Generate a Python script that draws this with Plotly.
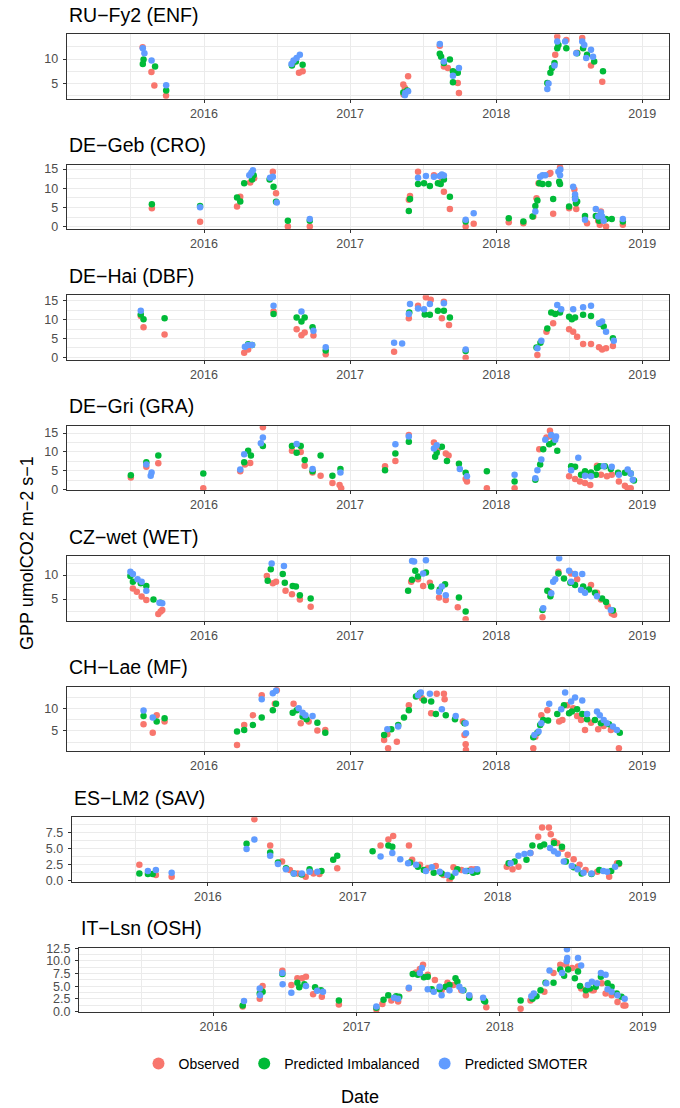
import plotly.graph_objects as go

# ---------------- data (decimal year, GPP) ----------------
SITE_TITLES = ["RU\u2212Fy2 (ENF)", "DE\u2212Geb (CRO)", "DE\u2212Hai (DBF)", "DE\u2212Gri (GRA)",
               "CZ\u2212wet (WET)", "CH\u2212Lae (MF)", "ES\u2212LM2 (SAV)", "IT\u2212Lsn (OSH)"]
SERIES_NAMES = ["Observed", "Predicted Imbalanced", "Predicted SMOTER"]
YEAR_TICKS = [2016, 2017, 2018, 2019]

RU_OBS = [(2015.58,12.4),(2015.64,7.36),(2015.66,4.6),(2015.74,2.5),(2016.61,9.2),(2016.65,7.2),(2016.675,7.5),
          (2017.364,4.8),(2017.375,4.1),(2017.397,6.5),(2017.366,2.8),(2017.614,12.7),(2017.642,8.5),(2017.669,8.2),
          (2017.723,7.3),(2017.737,5.1),(2017.745,3.1),(2018.404,10.9),(2018.418,14.6),(2018.48,13.9),(2018.589,14.3),
          (2018.649,8.7),(2018.726,5.4),(2018.554,11.3)]
RU_IMB = [(2015.581,9.0),(2015.586,9.9),(2015.665,8.5),(2015.741,3.6),(2016.602,8.7),(2016.629,9.5),(2016.675,8.85),
          (2017.364,3.2),(2017.391,3.6),(2017.614,11.1),(2017.623,10.5),(2017.683,9.9),(2017.642,9.2),(2017.704,7.5),
          (2017.737,7.2),(2017.704,5.3),(2018.35,5.1),(2018.371,7.2),(2018.382,8.2),(2018.399,9.2),(2018.418,12.2),
          (2018.426,12.9),(2018.48,12.2),(2018.554,11.2),(2018.595,12.2),(2018.622,10.9),(2018.671,9.5),(2018.731,7.5)]
RU_SMO = [(2015.581,12.2),(2015.592,11.2),(2015.641,9.7),(2015.741,4.66),(2016.599,9.0),(2016.613,9.7),(2016.634,10.2),
          (2016.656,10.9),(2017.378,3.1),(2017.397,3.45),(2017.375,2.6),(2017.614,13.1),(2017.642,9.5),(2017.745,8.2),
          (2017.704,6.6),(2018.35,3.9),(2018.358,5.0),(2018.399,8.7),(2018.418,13.6),(2018.472,13.6),(2018.548,11.2),
          (2018.589,13.6),(2018.603,12.9),(2018.616,10.2),(2018.649,11.9),(2018.663,10.5)]

GEB_OBS = [(2015.643,4.83),(2015.973,1.3),(2016.226,5.26),(2016.248,7.8),(2016.316,11.5),(2016.343,12.6),(2016.471,14.3),
           (2016.493,8.7),(2016.574,0.1),(2016.724,0.1),(2017.402,7.0),(2017.41,8.0),(2017.465,14.3),(2017.574,13.4),
           (2017.628,12.6),(2017.642,9.1),(2017.683,4.6),(2017.791,0.1),(2017.846,0.8),(2018.086,1.2),(2018.186,0.95),
           (2018.254,2.7),(2018.276,7.4),(2018.29,11.3),(2018.363,13.7),(2018.371,14.0),(2018.39,3.4),(2018.437,15.4),
           (2018.499,4.8),(2018.535,9.7),(2018.548,4.6),(2018.622,0.95),(2018.698,1.55),(2018.709,0.5),(2018.717,4.0),
           (2018.752,0.1),(2018.867,0.5)]
GEB_IMB = [(2015.643,5.86),(2015.973,5.4),(2016.226,7.6),(2016.248,6.55),(2016.275,11.3),(2016.329,12.3),(2016.34,13.4),
           (2016.449,12.3),(2016.476,10.4),(2016.493,6.5),(2016.574,1.55),(2016.724,1.55),(2017.402,4.1),(2017.41,7.2),
           (2017.465,11.1),(2017.506,11.3),(2017.546,10.6),(2017.601,11.3),(2017.62,11.1),(2017.642,12.3),(2017.683,7.8),
           (2017.791,1.4),(2018.086,2.24),(2018.186,1.4),(2018.249,2.7),(2018.268,5.4),(2018.282,6.8),(2018.295,11.3),
           (2018.317,11.1),(2018.358,11.1),(2018.39,7.2),(2018.431,11.7),(2018.437,11.1),(2018.499,5.3),(2018.54,7.7),
           (2018.546,6.1),(2018.554,6.6),(2018.608,2.8),(2018.682,2.8),(2018.704,1.55),(2018.752,2.0),(2018.791,2.0),
           (2018.867,1.4)]
GEB_SMO = [(2015.973,5.1),(2016.31,13.4),(2016.324,14.05),(2016.335,14.7),(2016.452,12.75),(2016.471,13.0),(2016.498,6.3),
           (2016.724,2.0),(2017.465,12.75),(2017.519,13.2),(2017.574,13.0),(2017.614,13.2),(2017.628,13.6),(2017.642,13.3),
           (2017.791,1.8),(2017.846,3.5),(2018.268,4.0),(2018.301,13.0),(2018.317,13.4),(2018.336,13.4),(2018.426,14.3),
           (2018.439,14.9),(2018.437,13.4),(2018.527,10.4),(2018.54,8.4),(2018.54,7.2),(2018.608,1.8),(2018.682,4.6),
           (2018.698,2.7),(2018.717,3.7),(2018.725,2.7),(2018.736,1.55),(2018.867,2.0)]

HAI_OBS = [(2015.567,11.0),(2015.586,8.0),(2015.73,6.1),(2016.275,1.24),(2016.302,2.1),(2016.476,12.2),(2016.634,7.5),
           (2016.667,5.9),(2016.689,6.6),(2016.749,5.8),(2016.833,0.8),(2017.301,1.5),(2017.402,10.4),(2017.465,13.7),
           (2017.519,16.0),(2017.552,15.3),(2017.628,10.4),(2017.642,14.8),(2017.677,8.6),(2017.791,-0.1),(2018.282,0.6),
           (2018.344,6.8),(2018.39,9.05),(2018.499,7.45),(2018.527,6.8),(2018.554,5.5),(2018.595,3.55),(2018.649,3.55),
           (2018.704,2.66),(2018.725,2.1),(2018.752,2.4),(2018.799,3.0)]
HAI_IMB = [(2015.567,11.4),(2015.586,10.1),(2015.73,10.4),(2016.302,3.5),(2016.329,3.3),(2016.476,11.5),(2016.634,10.6),
           (2016.667,9.5),(2016.689,10.6),(2016.743,8.0),(2016.833,1.8),(2017.405,11.9),(2017.511,11.4),(2017.546,11.3),
           (2017.601,12.4),(2017.642,12.4),(2017.683,10.6),(2017.791,1.7),(2018.276,2.6),(2018.303,3.9),(2018.35,7.7),
           (2018.377,11.9),(2018.404,11.5),(2018.437,11.9),(2018.499,10.8),(2018.518,10.1),(2018.54,10.6),(2018.595,11.3),
           (2018.649,11.0),(2018.709,8.9),(2018.736,8.2),(2018.799,5.1)]
HAI_SMO = [(2015.567,12.4),(2016.28,2.84),(2016.302,3.3),(2016.329,3.3),(2016.476,13.7),(2016.667,12.2),(2016.749,7.1),
           (2016.833,2.66),(2017.301,3.9),(2017.356,3.7),(2017.402,11.5),(2017.41,14.2),(2017.465,13.0),(2017.506,12.8),
           (2017.546,14.2),(2017.642,14.4),(2017.791,2.1),(2018.282,2.4),(2018.309,4.4),(2018.418,13.9),(2018.445,12.8),
           (2018.527,12.8),(2018.595,13.3),(2018.649,13.7),(2018.704,9.05),(2018.725,9.5),(2018.752,6.8),(2018.805,4.4)]

GRI_OBS = [(2015.499,3.3),(2015.605,6.1),(2015.687,7.0),(2015.995,0.45),(2016.248,4.9),(2016.28,6.7),(2016.316,7.1),
           (2016.403,16.5),(2016.602,10.3),(2016.662,10.0),(2016.689,6.4),(2016.743,4.6),(2016.798,3.75),(2016.879,1.8),
           (2016.928,1.3),(2016.939,0.45),(2017.239,6.25),(2017.31,7.6),(2017.402,14.5),(2017.574,12.5),(2017.601,10.9),
           (2017.655,9.6),(2017.674,9.1),(2017.791,2.9),(2017.8,2.2),(2017.936,0.45),(2018.126,0.45),(2018.295,10.7),
           (2018.344,13.8),(2018.368,15.6),(2018.377,14.1),(2018.499,3.6),(2018.54,2.9),(2018.573,2.2),(2018.608,1.8),
           (2018.644,1.3),(2018.69,6.4),(2018.717,4.0),(2018.758,3.6),(2018.791,4.0),(2018.84,2.2),(2018.881,1.1),
           (2018.9,0.45),(2018.921,0.45)]
GRI_IMB = [(2015.499,3.84),(2015.605,7.3),(2015.687,9.1),(2015.995,4.3),(2016.275,7.3),(2016.302,10.3),(2016.321,9.1),
           (2016.403,11.6),(2016.602,11.6),(2016.634,9.8),(2016.662,11.6),(2016.689,7.9),(2016.743,4.9),(2016.798,9.1),
           (2016.879,3.75),(2016.934,5.5),(2017.239,5.2),(2017.31,9.6),(2017.402,12.7),(2017.582,8.75),(2017.593,9.8),
           (2017.628,11.4),(2017.663,7.6),(2017.745,6.9),(2017.791,4.5),(2017.936,4.9),(2018.126,2.2),(2018.268,2.7),
           (2018.301,6.7),(2018.322,10.7),(2018.363,12.05),(2018.39,12.5),(2018.418,10.3),(2018.513,6.25),(2018.54,6.1),
           (2018.581,4.0),(2018.608,4.9),(2018.649,4.6),(2018.682,4.0),(2018.69,5.8),(2018.709,6.25),(2018.744,6.25),
           (2018.785,5.5),(2018.834,4.5),(2018.881,4.5),(2018.921,4.3),(2018.943,2.5)]
GRI_SMO = [(2015.605,6.7),(2015.635,3.75),(2015.641,4.6),(2016.248,5.4),(2016.275,9.4),(2016.389,12.3),(2016.403,13.8),
           (2016.634,12.1),(2016.743,5.5),(2016.934,4.6),(2017.31,12.05),(2017.402,14.1),(2017.574,10.9),(2017.593,11.8),
           (2017.751,5.5),(2017.8,3.6),(2018.126,4.0),(2018.268,3.1),(2018.282,5.2),(2018.309,8.0),(2018.336,13.2),
           (2018.377,14.5),(2018.404,13.2),(2018.41,14.1),(2018.513,5.2),(2018.562,8.5),(2018.608,3.75),(2018.649,3.6),
           (2018.736,6.25),(2018.791,6.1),(2018.84,4.0),(2018.9,5.4),(2018.921,4.3),(2018.935,2.7)]

CZ_OBS = [(2015.513,7.2),(2015.54,6.5),(2015.573,5.5),(2015.605,4.8),(2015.687,1.9),(2015.703,2.4),(2015.714,2.7),
          (2016.43,9.8),(2016.471,8.3),(2016.493,8.6),(2016.558,6.7),(2016.602,6.0),(2016.656,4.9),(2016.73,3.4),
          (2017.418,8.6),(2017.465,9.1),(2017.5,7.7),(2017.546,8.4),(2017.609,5.3),(2017.655,4.8),(2017.737,3.3),
          (2017.791,0.8),(2018.317,1.2),(2018.363,6.5),(2018.426,10.7),(2018.513,10.3),(2018.554,9.1),(2018.649,7.9),
          (2018.69,6.3),(2018.717,4.9),(2018.763,3.5),(2018.791,2.0),(2018.807,1.7)]
CZ_IMB = [(2015.496,9.8),(2015.513,8.6),(2015.567,8.3),(2015.605,7.7),(2015.654,4.9),(2015.703,4.2),(2016.436,8.8),
          (2016.457,11.2),(2016.539,10.2),(2016.553,8.4),(2016.607,7.7),(2016.629,7.6),(2016.656,5.8),(2016.73,5.1),
          (2017.397,6.7),(2017.424,9.0),(2017.446,10.9),(2017.465,9.7),(2017.519,10.5),(2017.555,7.6),(2017.614,7.0),
          (2017.65,8.1),(2017.745,5.3),(2017.791,2.4),(2018.317,2.7),(2018.35,6.7),(2018.371,5.6),(2018.426,10.3),
          (2018.464,9.3),(2018.508,8.4),(2018.54,7.9),(2018.595,7.6),(2018.635,7.0),(2018.676,6.3),(2018.725,5.1),
          (2018.752,4.4),(2018.799,2.6)]
CZ_SMO = [(2015.496,10.7),(2015.513,10.2),(2015.545,9.1),(2015.573,8.6),(2015.605,6.7),(2015.695,4.2),(2015.714,4.1),
          (2016.463,12.4),(2016.547,11.9),(2017.424,12.9),(2017.438,12.8),(2017.519,13.1),(2017.5,10.3),(2017.609,6.5),
          (2017.628,7.6),(2017.655,5.8),(2018.322,3.05),(2018.377,6.2),(2018.39,8.6),(2018.404,9.1),(2018.431,13.5),
          (2018.499,10.9),(2018.54,10.2),(2018.589,10.2),(2018.513,8.6),(2018.581,6.9),(2018.608,6.3),(2018.69,5.6),
          (2018.785,2.7)]

LAE_OBS = [(2015.586,6.5),(2015.649,4.6),(2015.676,8.5),(2015.73,7.1),(2016.226,1.9),(2016.275,6.3),(2016.335,8.5),
           (2016.395,12.9),(2016.485,11.0),(2016.498,14.0),(2016.613,11.0),(2016.662,6.7),(2016.716,7.1),(2016.776,5.1),
           (2016.83,5.2),(2017.233,3.0),(2017.255,4.3),(2017.32,2.6),(2017.26,1.2),(2017.402,10.7),(2017.492,12.2),
           (2017.555,8.9),(2017.593,13.2),(2017.642,13.2),(2017.647,12.0),(2017.772,7.1),(2017.783,4.1),(2017.791,2.1),
           (2017.793,0.8),(2018.254,1.2),(2018.268,3.75),(2018.309,8.5),(2018.35,9.6),(2018.431,7.1),(2018.453,7.4),
           (2018.486,10.7),(2018.527,10.0),(2018.554,8.3),(2018.581,7.4),(2018.608,5.2),(2018.649,6.8),(2018.698,5.4),
           (2018.736,6.1),(2018.785,5.2),(2018.84,1.2)]
LAE_IMB = [(2015.586,8.3),(2015.676,7.1),(2015.73,7.8),(2016.226,4.9),(2016.275,5.2),(2016.335,6.3),(2016.395,8.0),
           (2016.471,9.6),(2016.493,11.0),(2016.607,9.0),(2016.634,9.6),(2016.675,8.2),(2016.702,7.6),(2016.776,6.8),
           (2016.83,4.6),(2017.233,4.1),(2017.282,5.4),(2017.329,6.3),(2017.369,8.0),(2017.402,9.6),(2017.451,12.6),
           (2017.478,13.3),(2017.506,11.7),(2017.555,11.5),(2017.587,8.75),(2017.655,8.5),(2017.718,7.6),(2017.783,6.7),
           (2018.254,3.6),(2018.282,4.6),(2018.301,6.3),(2018.322,7.4),(2018.355,7.3),(2018.418,8.75),(2018.464,10.7),
           (2018.499,8.9),(2018.518,9.3),(2018.554,9.8),(2018.589,8.75),(2018.622,7.6),(2018.676,7.4),(2018.717,6.7),
           (2018.772,6.5),(2018.846,4.6)]
LAE_SMO = [(2015.586,9.5),(2015.649,8.0),(2016.395,12.0),(2016.471,13.3),(2016.493,13.9),(2016.648,10.0),(2016.675,9.0),
           (2016.694,8.5),(2016.743,8.3),(2017.255,5.4),(2017.329,6.0),(2017.465,12.9),(2017.484,13.5),(2017.546,13.2),
           (2017.628,9.8),(2017.723,8.3),(2017.791,6.7),(2017.793,4.5),(2018.262,4.1),(2018.29,4.9),(2018.309,6.7),
           (2018.363,11.0),(2018.445,9.8),(2018.472,13.5),(2018.513,11.5),(2018.54,12.4),(2018.589,11.7),(2018.622,8.75),
           (2018.69,9.3),(2018.709,8.5),(2018.736,7.4),(2018.758,6.7),(2018.799,6.0),(2018.826,5.2)]

LM2_OBS = [(2015.527,2.5),(2015.641,0.9),(2015.75,0.63),(2016.321,9.6),(2016.43,5.5),(2016.512,3.0),(2016.566,1.7),
           (2016.62,1.16),(2016.675,0.63),(2016.729,1.16),(2016.77,1.06),(2016.893,1.95),(2017.192,5.5),(2017.246,6.45),
           (2017.279,6.97),(2017.388,5.5),(2017.41,3.28),(2017.464,2.5),(2017.518,1.95),(2017.573,2.3),(2017.627,0.9),
           (2017.668,0.1),(2017.695,2.1),(2017.75,1.7),(2017.818,1.8),(2017.845,1.8),(2018.063,2.2),(2018.103,1.8),
           (2018.144,2.2),(2018.226,4.33),(2018.28,6.87),(2018.307,8.3),(2018.354,8.3),(2018.367,7.24),(2018.389,6.18),
           (2018.411,5.9),(2018.444,5.0),(2018.484,4.07),(2018.525,3.38),(2018.566,2.5),(2018.607,1.7),(2018.688,1.43),
           (2018.77,0.63),(2018.824,2.75),(2018.838,2.64)]
LM2_IMB = [(2015.527,1.16),(2015.586,1.06),(2015.619,1.06),(2016.267,5.76),(2016.43,4.4),(2016.484,2.85),(2016.539,1.95),
           (2016.593,1.16),(2016.648,1.0),(2016.702,1.8),(2016.784,1.53),(2016.865,3.28),(2016.893,3.9),(2017.137,4.6),
           (2017.246,5.5),(2017.273,5.3),(2017.396,2.85),(2017.45,2.2),(2017.491,1.7),(2017.559,1.27),(2017.614,1.16),
           (2017.682,0.63),(2017.722,1.8),(2017.79,1.53),(2017.831,1.27),(2017.859,1.43),(2018.076,2.75),(2018.117,3.0),
           (2018.199,3.28),(2018.24,5.5),(2018.294,5.4),(2018.321,5.65),(2018.389,5.9),(2018.444,5.3),(2018.471,3.0),
           (2018.525,2.1),(2018.58,1.16),(2018.648,1.06),(2018.702,1.7),(2018.784,1.53),(2018.838,2.75)]
LM2_SMO = [(2015.586,1.53),(2015.641,1.7),(2015.75,1.27),(2016.267,4.97),(2016.321,6.45),(2016.43,3.9),(2016.484,2.64),
           (2016.539,1.8),(2016.593,1.16),(2016.648,1.16),(2016.702,1.43),(2016.756,1.43),(2017.192,3.8),(2017.273,4.33),
           (2017.328,3.38),(2017.382,2.75),(2017.437,2.5),(2017.505,1.53),(2017.546,2.1),(2017.6,1.43),(2017.654,0.9),
           (2017.709,1.27),(2017.777,1.53),(2017.818,1.58),(2017.859,1.8),(2018.09,2.75),(2018.144,3.9),(2018.185,4.17),
           (2018.226,4.33),(2018.362,5.12),(2018.389,4.6),(2018.416,4.23),(2018.457,3.0),(2018.512,2.3),(2018.552,1.8),
           (2018.593,1.27),(2018.648,1.16),(2018.729,1.53),(2018.756,1.43),(2018.811,2.2)]

LSN_OBS = [(2016.204,1.0),(2016.323,2.55),(2016.343,5.04),(2016.481,8.06),(2016.544,5.24),(2016.586,6.6),(2016.619,6.6),
           (2016.646,6.9),(2016.696,3.4),(2016.757,2.9),(2016.876,1.4),(2017.138,0.34),(2017.18,1.5),(2017.243,2.2),
           (2017.29,2.0),(2017.365,4.57),(2017.414,7.7),(2017.442,8.4),(2017.464,9.27),(2017.497,7.26),(2017.547,6.25),
           (2017.594,4.2),(2017.635,5.7),(2017.677,5.24),(2017.732,4.2),(2017.787,3.0),(2017.906,0.87),(2018.146,0.54),
           (2018.215,2.2),(2018.312,3.9),(2018.376,7.6),(2018.423,9.27),(2018.464,9.27),(2018.506,8.6),(2018.547,8.9),
           (2018.569,4.57),(2018.602,3.2),(2018.644,4.2),(2018.657,4.2),(2018.713,5.6),(2018.74,3.56),(2018.782,3.2),
           (2018.823,1.9),(2018.865,1.2),(2018.878,1.2)]
LSN_IMB = [(2016.204,1.2),(2016.323,3.56),(2016.343,3.9),(2016.481,7.4),(2016.586,5.7),(2016.599,4.8),(2016.635,5.4),
           (2016.71,4.8),(2016.751,4.2),(2016.876,2.2),(2017.138,0.74),(2017.188,2.35),(2017.221,3.2),(2017.276,3.0),
           (2017.298,2.9),(2017.392,7.4),(2017.428,7.26),(2017.47,6.8),(2017.497,6.9),(2017.525,4.4),(2017.58,4.4),
           (2017.622,4.9),(2017.649,5.24),(2017.691,6.6),(2017.704,5.9),(2017.746,4.2),(2017.787,2.75),(2017.89,2.2),
           (2017.898,2.0),(2018.146,2.2),(2018.229,2.55),(2018.257,3.0),(2018.285,4.2),(2018.32,5.7),(2018.376,5.7),
           (2018.423,8.3),(2018.45,7.06),(2018.478,8.3),(2018.525,6.6),(2018.547,7.9),(2018.561,5.04),(2018.602,4.2),
           (2018.63,4.57),(2018.671,4.9),(2018.707,6.9),(2018.754,5.6),(2018.782,4.9),(2018.818,3.56),(2018.851,2.9)]
LSN_SMO = [(2016.213,2.08),(2016.323,4.57),(2016.325,3.2),(2016.481,7.6),(2016.483,5.4),(2016.544,3.7),(2016.646,5.04),
           (2016.724,4.1),(2016.765,3.9),(2017.138,1.0),(2017.262,2.75),(2017.29,2.55),(2017.365,4.7),(2017.442,7.6),
           (2017.456,8.6),(2017.497,4.4),(2017.539,3.9),(2017.58,4.9),(2017.594,3.2),(2017.649,4.2),(2017.718,4.9),
           (2017.74,4.2),(2017.787,3.2),(2017.884,2.75),(2018.221,3.0),(2018.238,3.56),(2018.326,5.6),(2018.348,8.1),
           (2018.436,7.6),(2018.47,12.3),(2018.468,9.95),(2018.472,10.6),(2018.547,10.6),(2018.569,9.1),(2018.616,5.24),
           (2018.644,5.9),(2018.68,5.6),(2018.707,7.6),(2018.74,7.26),(2018.754,4.4),(2018.782,3.9),(2018.823,3.2),
           (2018.873,2.55)]

SITE_DATA = [(RU_OBS, RU_IMB, RU_SMO), (GEB_OBS, GEB_IMB, GEB_SMO), (HAI_OBS, HAI_IMB, HAI_SMO),
             (GRI_OBS, GRI_IMB, GRI_SMO), (CZ_OBS, CZ_IMB, CZ_SMO), (LAE_OBS, LAE_IMB, LAE_SMO),
             (LM2_OBS, LM2_IMB, LM2_SMO), (LSN_OBS, LSN_IMB, LSN_SMO)]

Y_TICKS = [[5, 10], [0, 5, 10, 15], [0, 5, 10, 15], [0, 5, 10, 15], [5, 10], [5, 10],
           [0, 2.5, 5, 7.5], [0, 2.5, 5, 7.5, 10, 12.5]]
Y_TICKTEXT = [["5", "10"], ["0", "5", "10", "15"], ["0", "5", "10", "15"], ["0", "5", "10", "15"],
              ["5", "10"], ["5", "10"], ["0.0", "2.5", "5.0", "7.5"],
              ["0.0", "2.5", "5.0", "7.5", "10.0", "12.5"]]

# ---------------- layout / style ----------------
# The page's default 8px body margin is removed by a post-script so the figure
# starts at the window's top-left corner and positions are plain page pixels.
W, H = 680, 1108
COLORS = ["#F8766D", "#00BA38", "#619CFF"]
TOP0, STEP, PH, RIGHT = 34.3, 130.5, 64.5, 669.3
LEFTS = [66.7, 66.7, 66.7, 66.7, 66.7, 66.7, 71.7, 79.0]
Y_RANGES = [[1.9, 15.06], [-0.65, 16.1], [-0.66, 16.5], [-0.1, 16.9], [0.46, 13.9], [0.52, 14.75],
            [-0.15, 9.9], [-0.15, 12.6]]
Y_MINOR = [2.5, 2.5, 2.5, 2.5, 2.5, 2.5, 1.25, 1.25]
X_RANGE = [2015.06, 2019.185]
FONT = "Liberation Sans, Arial, sans-serif"
GRID = "#EBEBEB"


def px_x(px):
    return px / W


def px_y(py):
    return 1 - py / H


fig = go.Figure()
annotations = []
layout_axes = {}
for i, (title, series) in enumerate(zip(SITE_TITLES, SITE_DATA)):
    sfx = "" if i == 0 else str(i + 1)
    for name, color, pts in zip(SERIES_NAMES, COLORS, series):
        fig.add_trace(go.Scatter(
            x=[p[0] for p in pts], y=[p[1] for p in pts], mode="markers", name=name,
            legendgroup=name, showlegend=(i == 0),
            marker=dict(color=color, size=6.5, line=dict(width=0)),
            xaxis="x" + sfx, yaxis="y" + sfx))
    top = TOP0 + STEP * i
    bot = top + PH
    L = LEFTS[i]
    layout_axes["xaxis" + sfx] = dict(
        domain=[px_x(L), px_x(RIGHT)], anchor="y" + sfx, range=X_RANGE, automargin=False,
        tickmode="array", tickvals=YEAR_TICKS, ticktext=[str(y) for y in YEAR_TICKS],
        ticks="outside", ticklen=3, tickwidth=1, tickcolor="#333333",
        tickfont=dict(family=FONT, size=12.5, color="#4D4D4D"),
        showgrid=True, gridcolor=GRID, gridwidth=1,
        minor=dict(tickmode="linear", tick0=2015.5, dtick=0.5, showgrid=True, gridcolor=GRID, gridwidth=0.6),
        showline=True, mirror=True, linecolor="#333333", linewidth=1, zeroline=False)
    layout_axes["yaxis" + sfx] = dict(
        domain=[px_y(bot), px_y(top)], anchor="x" + sfx, range=Y_RANGES[i], automargin=False,
        tickmode="array", tickvals=Y_TICKS[i], ticktext=Y_TICKTEXT[i],
        ticks="outside", ticklen=3, tickwidth=1, tickcolor="#333333", ticklabelstandoff=2,
        tickfont=dict(family=FONT, size=12.5, color="#4D4D4D"),
        showgrid=True, gridcolor=GRID, gridwidth=1,
        minor=dict(tickmode="linear", tick0=0, dtick=Y_MINOR[i], showgrid=True, gridcolor=GRID, gridwidth=0.6),
        showline=True, mirror=True, linecolor="#333333", linewidth=1, zeroline=False)
    annotations.append(dict(text=title, xref="paper", yref="paper", x=px_x(L), y=px_y(top - 19.5),
                            xanchor="left", yanchor="middle", showarrow=False,
                            font=dict(family=FONT, size=19.5, color="black")))

annotations.append(dict(text="GPP umolCO2 m\u22122 s\u22121", xref="paper", yref="paper",
                        x=px_x(27), y=px_y(553), xanchor="center", yanchor="middle", textangle=-90,
                        showarrow=False, font=dict(family=FONT, size=18, color="black")))
annotations.append(dict(text="Date", xref="paper", yref="paper", x=px_x(360), y=px_y(1097),
                        xanchor="center", yanchor="middle", showarrow=False,
                        font=dict(family=FONT, size=18, color="black")))

fig.update_layout(
    width=W, height=H, margin=dict(l=0, r=0, t=0, b=0, autoexpand=False),
    paper_bgcolor="white", plot_bgcolor="white",
    annotations=annotations,
    legend=dict(orientation="h", x=px_x(366), xanchor="center", y=px_y(1064), yanchor="middle",
                font=dict(family=FONT, size=14, color="black"), bgcolor="rgba(0,0,0,0)",
                itemsizing="constant"),
    **layout_axes)

fig.write_html("out.html", config={"displayModeBar": False},
               post_script="document.body.style.margin='0';document.body.style.overflow='hidden';")
